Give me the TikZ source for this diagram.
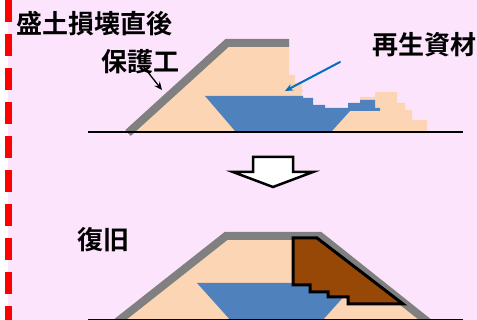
\documentclass[tikz,border=0pt]{standalone}
\usepackage{fontspec}
\usetikzlibrary{arrows.meta}
\newfontfamily\jp{Noto Sans CJK JP}[BoldFont={Noto Sans CJK JP Bold}]
\definecolor{bgpink}{RGB}{252,228,252}
\definecolor{soil}{RGB}{252,213,181}
\definecolor{water}{RGB}{79,129,189}
\definecolor{cover}{RGB}{128,128,128}
\definecolor{recyc}{RGB}{152,72,6}
\definecolor{arrblue}{RGB}{0,112,192}
\begin{document}
\begin{tikzpicture}[x=1pt, y=-1pt, line join=round, line cap=round, >={Stealth[length=8pt,width=7pt]},
	lbl/.style={font=\jp\bfseries\fontsize{26}{26}\selectfont, anchor=west, inner sep=0pt},
	slope/.style={draw=cover, line width=8pt, line cap=butt, line join=miter},
	ground/.style={line width=2.5pt, line cap=butt}]
	\def\W{477} \def\H{320}
	\useasboundingbox (0,0) rectangle (\W,\H);
	\fill[bgpink] (8,0) rectangle (\W,\H);
	\draw[red, line width=7pt, line cap=butt, dash pattern=on 22pt off 12pt] (8.5,0)--(8.5,\H);
	% 損壊直後の盛土
	\fill[soil] (130,131)--(227,43)--(289,43)--(289,75)--(295,75)--(295,83)--(302,83)--(302,96)--(332,131)--cycle;
	\fill[soil] (332,131)--(350,110)--(360,110)--(360,97)--(375,97)--(375,92)--(397,92)--(397,103)--(405,103)
		--(405,110)--(412,110)--(412,120)--(427,120)--(427,131)--cycle;
	\fill[water] (205,96)--(303,96)--(303,98)--(313,98)--(313,105)--(325,105)--(325,108)--(348,108)--(348,103)
		--(360,103)--(360,100)--(375,100)--(375,108)--(380,108)--(380,111)--(350,111)--(332,131)--(235,131)--cycle;
	\draw[slope] (128,133)--(227,43)--(289,43);
	\draw[ground] (88,132)--(463,132);
	\node[lbl] (title1) at (16,24) {盛土損壊直後};
	\node[lbl] (hogo) at (101,62) {保護工};
	\node[lbl] (saisei) at (372,45) {再生資材};
	\coordinate (hogo-s) at (143,66);
	\coordinate (hogo-e) at (162,90);
	\coordinate (saisei-s) at (340,62);
	\coordinate (saisei-e) at (285,91);
	\draw[->, line width=1.3pt] (hogo-s)--(hogo-e);
	\draw[->, arrblue, line width=2pt] (saisei-s)--(saisei-e);
	% 矢印
	\draw[line width=2.5pt, line join=miter, fill=white] (253,157)--(293,157)--(293,172)--(313,172)--(273,187)
		--(233,172)--(253,172)--cycle;
	% 復旧後の盛土
	\fill[soil] (120,322)--(226,236)--(320,236)--(426,322)--cycle;
	\fill[water] (197,283)--(356,283)--(321,322)--(232,322)--cycle;
	\draw[slope] (117,322)--(226,236)--(320,236)--(428,322);
	\draw[fill=recyc, draw=black, line width=3pt, line join=miter] (293,238)--(317,238)--(403,304)--(348,304)--(348,297)
		--(328,297)--(328,292)--(310,292)--(310,285)--(293,285)--cycle;
	\draw[ground] (88,320)--(463,320);
	\node[lbl] (title2) at (77,240) {復旧};
\end{tikzpicture}
\end{document}
